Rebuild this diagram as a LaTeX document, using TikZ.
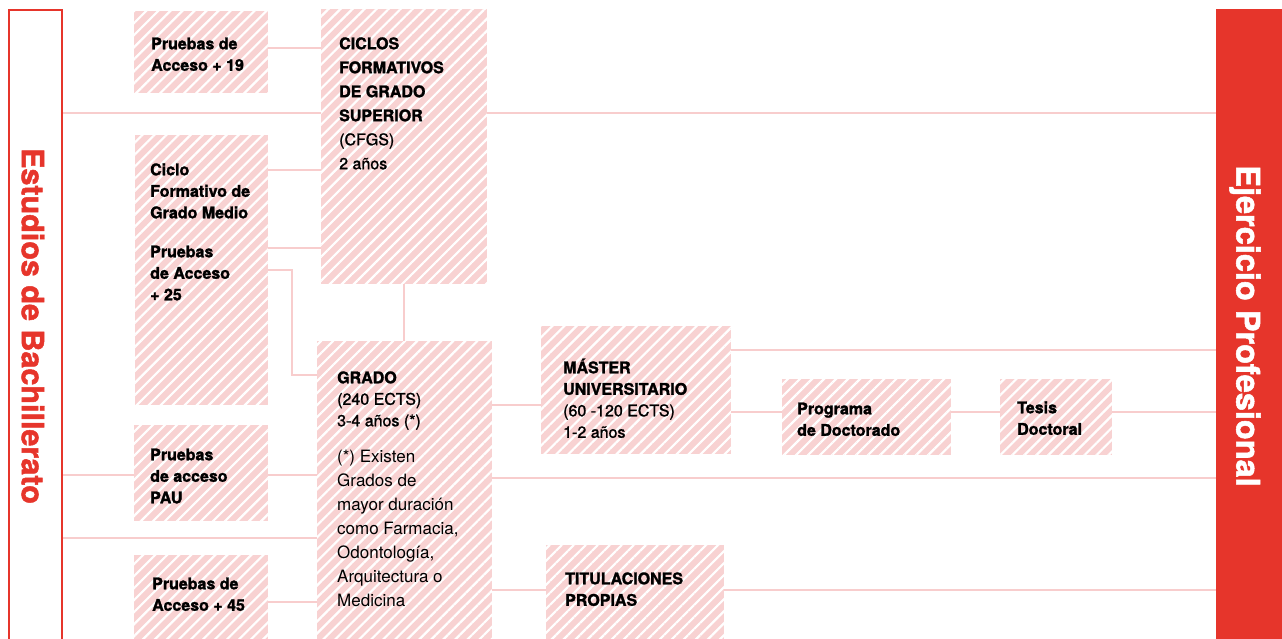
\documentclass[tikz,border=0pt]{standalone}
\usepackage{fontspec}
\setmainfont{TeX Gyre Heros}[BoldFeatures={FakeBold=1.6}]
\newfontfamily\semib[FakeBold=1.3]{TeX Gyre Heros}
\usepackage{tikz}
\usetikzlibrary{patterns.meta}

\definecolor{redmark}{HTML}{E6352B}
\definecolor{hatchpink}{HTML}{F8D2D2}
\definecolor{linepink}{HTML}{F8CDCD}

\tikzset{
  hbox/.style={rectangle, anchor=north west, inner sep=0, draw=none, fill=hatchpink,
    postaction={pattern={Lines[angle=45,distance=8.5pt,line width=2.2pt]}, pattern color=white}},
  link/.style={draw=linepink, line width=2pt},
  lbl/.style={anchor=north west, inner sep=0, align=left, font=\fontsize{16}{21.5}\selectfont},
  lblwide/.style={lbl, font=\fontsize{16}{24}\selectfont},
  note/.style={lbl, font=\fontsize{17}{24}\selectfont},
  sidetitle/.style={rotate=-90, inner sep=0}
}

\begin{document}
\begin{tikzpicture}[x=1pt,y=-1pt]
\useasboundingbox (0,0) rectangle (1282,638);

%% side columns
\node[rectangle, anchor=north west, inner sep=0, draw=redmark, line width=2pt,
      minimum width=53.5pt, minimum height=650pt] (bach) at (7.5,9) {};
\node[sidetitle, text=redmark, font=\fontsize{30.5}{34}\selectfont\bfseries] (bachtxt) at (33,326) {Estudios de Bachillerato};
\node[rectangle, anchor=north west, inner sep=0, fill=redmark,
      minimum width=70pt, minimum height=640pt] (prof) at (1216,9) {};
\node[sidetitle, text=white, font=\fontsize{32.5}{36}\selectfont\bfseries] (proftxt) at (1245,326) {Ejercicio Profesional};

%% boxes
\node[hbox, minimum width=134pt, minimum height=82pt]  (acc19)  at (134,11)  {};
\node[hbox, minimum width=166pt, minimum height=275pt] (cfgs)   at (321,9)   {};
\node[hbox, minimum width=133pt, minimum height=270pt] (cfgm)   at (135,135) {};
\node[hbox, minimum width=175pt, minimum height=310pt] (grado)  at (317,341) {};
\node[hbox, minimum width=134pt, minimum height=96pt]  (pau)    at (134,425) {};
\node[hbox, minimum width=134pt, minimum height=90pt]  (acc45)  at (134,555) {};
\node[hbox, minimum width=190pt, minimum height=128pt] (master) at (541,326) {};
\node[hbox, minimum width=169pt, minimum height=76pt]  (doct)   at (782,379) {};
\node[hbox, minimum width=112pt, minimum height=76pt]  (tesis)  at (1000,379) {};
\node[hbox, minimum width=178pt, minimum height=100pt] (tit)    at (546,545) {};

%% texts
\node[lbl] (acc19t) at (151,34) {\strut\bfseries Pruebas de\\\bfseries Acceso + 19};
\node[lblwide] (cfgst) at (339,32.2) {\strut\bfseries CICLOS\\\bfseries FORMATIVOS\\\bfseries DE GRADO\\\bfseries SUPERIOR\\\semib (CFGS)\\\semib 2 años};
\node[lbl] (cfgmt) at (150,160) {\strut\bfseries Ciclo\\\bfseries Formativo de\\\bfseries Grado Medio\\[17.5pt]\bfseries Pruebas\\\bfseries de Acceso\\\bfseries + 25};
\node[lbl] (gradot) at (337,368) {\strut\bfseries GRADO\\\semib (240 ECTS)\\\semib 3-4 años (*)};
\node[note] (gradonote) at (337,445.2) {\strut(*) Existen\\Grados de\\mayor duración\\como Farmacia,\\Odontología,\\Arquitectura o\\Medicina};
\node[lbl] (paut) at (150,445) {\strut\bfseries Pruebas\\\bfseries de acceso\\\bfseries PAU};
\node[lbl] (acc45t) at (152,574) {\strut\bfseries Pruebas de\\\bfseries Acceso + 45};
\node[lbl] (mastert) at (563,358) {\strut\bfseries MÁSTER\\\bfseries UNIVERSITARIO\\\semib (60 -120 ECTS)\\\semib 1-2 años};
\node[lbl] (doctt) at (797,399) {\strut\bfseries Programa\\\bfseries de Doctorado};
\node[lbl] (tesist) at (1017,398) {\strut\bfseries Tesis\\\bfseries Doctoral};
\node[lbl] (titt) at (565,569) {\strut\bfseries TITULACIONES\\\bfseries PROPIAS};

%% connectors
\coordinate (bend) at (292,375);
\draw[link] (acc19.east |- 0,48) -- (cfgs.west |- 0,48);
\draw[link] (bach.east |- 0,113) -- (cfgs.west |- 0,113);
\draw[link] (cfgs.east |- 0,113) -- (prof.west |- 0,113);
\draw[link] (cfgm.east |- 0,170) -- (cfgs.west |- 0,170);
\draw[link] (cfgm.east |- 0,248) -- (cfgs.west |- 0,248);
\draw[link] (cfgm.east |- 0,270) -| (bend) -- (grado.west |- bend);
\draw[link] (cfgs.south) -- (cfgs.south |- grado.north);
\draw[link] (grado.east |- 0,405) -- (master.west |- 0,405);
\draw[link] (master.east |- 0,350) -- (prof.west |- 0,350);
\draw[link] (master.east |- 0,412) -- (doct.west |- 0,412);
\draw[link] (doct.east |- 0,412) -- (tesis.west |- 0,412);
\draw[link] (tesis.east |- 0,412) -- (prof.west |- 0,412);
\draw[link] (bach.east |- 0,475) -- (pau.west |- 0,475);
\draw[link] (pau.east |- 0,475) -- (grado.west |- 0,475);
\draw[link] (grado.east |- 0,478) -- (prof.west |- 0,478);
\draw[link] (bach.east |- 0,538) -- (grado.west |- 0,538);
\draw[link] (acc45.east |- 0,602) -- (grado.west |- 0,602);
\draw[link] (grado.east |- 0,590) -- (tit.west |- 0,590);
\draw[link] (tit.east |- 0,590) -- (prof.west |- 0,590);

\end{tikzpicture}
\end{document}
